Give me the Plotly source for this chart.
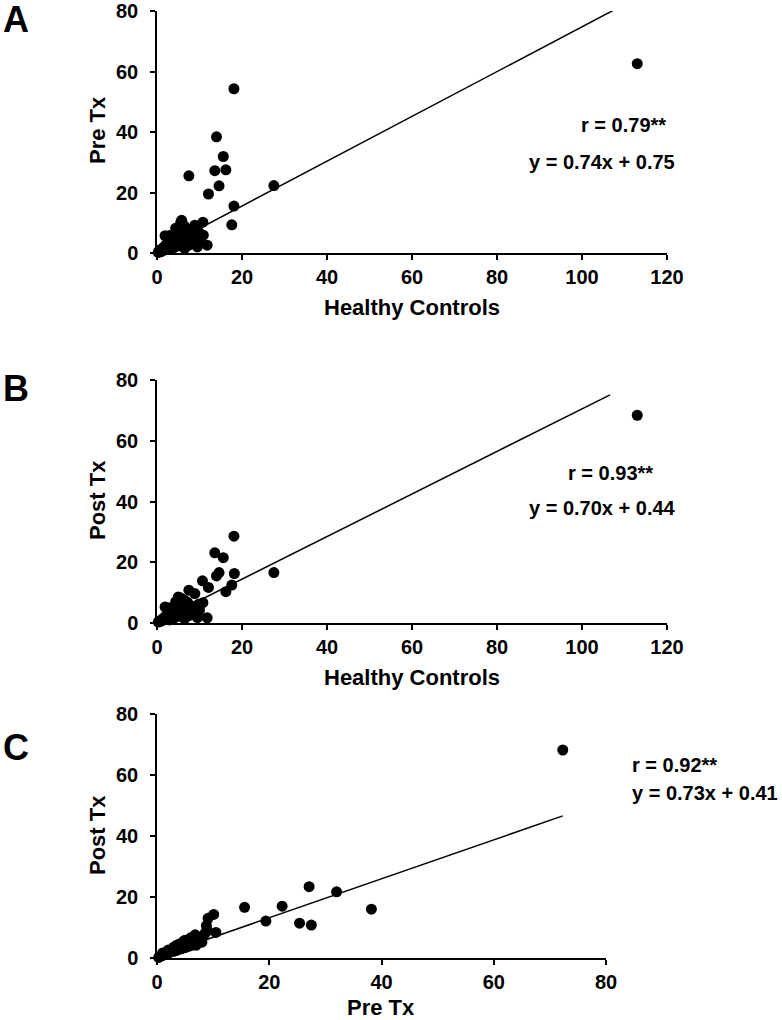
import plotly.graph_objects as go

W, H = 782, 1020

# ---------------- data ----------------
# Panel A: Healthy Controls (x) vs Pre Tx (y)
a_x = [113.0, 18.1, 14.0, 15.6, 13.6, 16.2, 7.5, 14.6, 27.5, 12.1, 18.1, 17.6, 10.8, 5.8, 8.9,
       11.8, 10.9, 1.9, 8.5,
       0.3, 0.5, 0.8, 1.0, 1.2, 1.5, 1.8, 2.0, 2.2, 2.5, 2.8, 3.0, 3.2, 3.5, 3.8, 4.0, 4.2, 4.5,
       4.8, 5.0, 5.2, 5.5, 5.8, 6.0, 6.2, 6.5, 6.8, 7.0, 7.5, 8.0, 8.5, 9.0, 9.5, 10.0, 3.0, 4.4,
       5.6, 6.4, 2.6, 7.2, 9.8]
a_y = [62.6, 54.3, 38.4, 31.9, 27.2, 27.5, 25.5, 22.2, 22.3, 19.5, 15.5, 9.3, 10.2, 10.8, 9.2,
       2.6, 5.9, 5.7, 3.2,
       0.2, 0.8, 0.4, 1.2, 0.6, 1.8, 1.0, 2.5, 1.4, 3.0, 2.0, 1.2, 3.6, 2.6, 4.5, 1.8, 5.2, 3.2,
       6.4, 2.4, 7.5, 4.0, 8.6, 3.0, 5.6, 1.5, 6.8, 4.2, 2.6, 5.0, 6.0, 3.8, 2.0, 4.6, 5.8, 8.2,
       10.2, 9.0, 4.8, 7.8, 7.0]

# Panel B: Healthy Controls (x) vs Post Tx (y)
b_x = [113.0, 18.1, 13.6, 15.6, 14.6, 14.0, 18.2, 27.5, 10.7, 12.1, 17.6, 16.2, 7.5, 8.9, 5.0,
       10.8, 11.8, 1.9,
       0.3, 0.5, 0.8, 1.0, 1.2, 1.5, 1.8, 2.0, 2.2, 2.5, 2.8, 3.0, 3.2, 3.5, 3.8, 4.0, 4.2, 4.5,
       4.8, 5.0, 5.2, 5.5, 5.8, 6.0, 6.2, 6.5, 6.8, 7.0, 7.5, 8.0, 8.5, 9.0, 9.5, 10.0, 3.0, 4.4,
       5.6, 6.4, 2.6, 7.2, 9.8]
b_y = [68.4, 28.6, 23.1, 21.5, 16.6, 15.5, 16.3, 16.6, 13.9, 11.7, 12.5, 10.3, 10.8, 9.7, 8.6,
       6.7, 1.7, 5.3,
       0.3, 0.6, 0.5, 1.0, 0.8, 1.6, 1.2, 2.2, 1.5, 2.8, 2.1, 1.0, 3.2, 2.4, 4.0, 1.6, 4.6, 3.0,
       5.4, 2.2, 6.2, 3.6, 7.0, 2.8, 5.0, 1.4, 5.8, 3.8, 2.4, 4.6, 5.4, 3.4, 1.8, 4.2, 5.0, 7.0,
       8.2, 7.6, 4.2, 6.8, 6.2]

# Panel C: Pre Tx (x) vs Post Tx (y)
c_x = [72.3, 15.6, 22.3, 27.1, 32.0, 38.2, 19.4, 25.4, 27.5, 10.5, 10.1, 9.1,
       0.3, 0.6, 0.9, 1.2, 1.5, 1.8, 2.1, 2.4, 2.7, 3.0, 3.3, 3.6, 4.0, 4.3, 4.6, 5.0, 5.3, 5.6,
       6.0, 6.3, 6.6, 7.0, 7.3, 7.6, 8.0, 8.3, 8.6, 9.0, 1.0, 2.0, 3.0, 4.0, 5.0, 6.0, 7.0, 8.0,
       3.5, 4.8, 6.8, 8.8]
c_y = [68.2, 16.6, 17.0, 23.4, 21.7, 16.0, 12.1, 11.4, 10.8, 8.4, 14.3, 13.0,
       0.2, 0.5, 0.8, 1.0, 1.4, 1.3, 1.8, 2.0, 2.4, 2.2, 2.8, 2.6, 3.2, 3.0, 3.6, 3.4, 4.2, 3.8,
       4.6, 4.2, 5.0, 5.2, 5.8, 6.2, 6.8, 7.4, 8.2, 9.0, 1.6, 2.6, 3.6, 4.6, 5.8, 6.6, 4.2, 5.2,
       4.2, 5.6, 7.6, 10.6]

# trend lines: end points as drawn in the picture
a_fit_x, a_fit_y = [0, 113.0], [0.75, 84.4]
b_fit_x, b_fit_y = [0, 106.6], [0.44, 75.1]
c_fit_x, c_fit_y = [0, 72.3], [0.41, 46.6]

a_labels = ["r = 0.79**", "y = 0.74x + 0.75"]
b_labels = ["r = 0.93**", "y = 0.70x + 0.44"]
c_labels = ["r = 0.92**", "y = 0.73x + 0.41"]

x_ticks_ab = [0, 20, 40, 60, 80, 100, 120]
x_ticks_c = [0, 20, 40, 60, 80]
y_ticks = [0, 20, 40, 60, 80]

# ---------------- figure ----------------
FONT = "Liberation Sans, Arial, sans-serif"
fig = go.Figure()


def px_x(p):
    return p / W


def px_y(p):
    return 1 - p / H


panels = [
    ("x", "y", a_x, a_y, a_fit_x, a_fit_y),
    ("x2", "y2", b_x, b_y, b_fit_x, b_fit_y),
    ("x3", "y3", c_x, c_y, c_fit_x, c_fit_y),
]
for xa, ya, xs, ys, fx, fy in panels:
    fig.add_trace(go.Scatter(x=fx, y=fy, mode="lines",
                             line=dict(color="black", width=1.5),
                             xaxis=xa, yaxis=ya, showlegend=False, hoverinfo="skip"))
    fig.add_trace(go.Scatter(x=xs, y=ys, mode="markers",
                             marker=dict(color="black", size=11),
                             cliponaxis=False, xaxis=xa, yaxis=ya, showlegend=False))

axis_common = dict(showline=True, linecolor="black", linewidth=1.5, ticks="outside",
                   ticklen=5, tickwidth=1.5, tickcolor="black", showgrid=False,
                   zeroline=False, automargin=False, ticklabeloverflow="allow",
                   tickfont=dict(family=FONT, size=20, color="black", weight="bold"))

xdom_ab = [px_x(157), px_x(667)]
xdom_c = [px_x(157), px_x(606)]

fig.update_layout(
    width=W, height=H, margin=dict(l=0, r=0, t=0, b=0, autoexpand=False),
    paper_bgcolor="white", plot_bgcolor="white",
    xaxis=dict(domain=xdom_ab, range=[0, 120], tickvals=x_ticks_ab, anchor="y", **axis_common),
    yaxis=dict(domain=[px_y(253), px_y(11)], range=[0, 80], tickvals=y_ticks, anchor="x",
               ticklabelstandoff=8, **axis_common),
    xaxis2=dict(domain=xdom_ab, range=[0, 120], tickvals=x_ticks_ab, anchor="y2", **axis_common),
    yaxis2=dict(domain=[px_y(623), px_y(380)], range=[0, 80], tickvals=y_ticks, anchor="x2",
                ticklabelstandoff=8, **axis_common),
    xaxis3=dict(domain=xdom_c, range=[0, 80], tickvals=x_ticks_c, anchor="y3", **axis_common),
    yaxis3=dict(domain=[px_y(958), px_y(714)], range=[0, 80], tickvals=y_ticks, anchor="x3",
                ticklabelstandoff=8, **axis_common),
)


def ann(text, x, y, size, xanchor="center", angle=0):
    fig.add_annotation(text=text, x=px_x(x), y=px_y(y), xref="paper", yref="paper",
                       xanchor=xanchor, yanchor="middle", showarrow=False, textangle=angle,
                       font=dict(family=FONT, size=size, color="black", weight="bold"))


# panel letters
ann("A", 16, 19, 36)
ann("B", 16, 388, 36)
ann("C", 16, 747, 36)

# axis titles
ann("Healthy Controls", 412, 307, 22)
ann("Healthy Controls", 412, 677, 22)
ann("Pre Tx", 381, 1007, 22)
ann("Pre Tx", 97, 130, 22, angle=-90)
ann("Post Tx", 97, 500, 22, angle=-90)
ann("Post Tx", 97, 835, 22, angle=-90)

# statistics text
ann(a_labels[0], 623, 125, 20)
ann(a_labels[1], 602, 162, 20)
ann(b_labels[0], 610, 473, 20)
ann(b_labels[1], 602, 508, 20)
ann(c_labels[0], 630, 765, 20, xanchor="left")
ann(c_labels[1], 630, 793, 20, xanchor="left")

fig.write_html("out.html", config={"displayModeBar": False},
               post_script="document.body.style.margin='0';document.body.style.overflow='hidden';")
